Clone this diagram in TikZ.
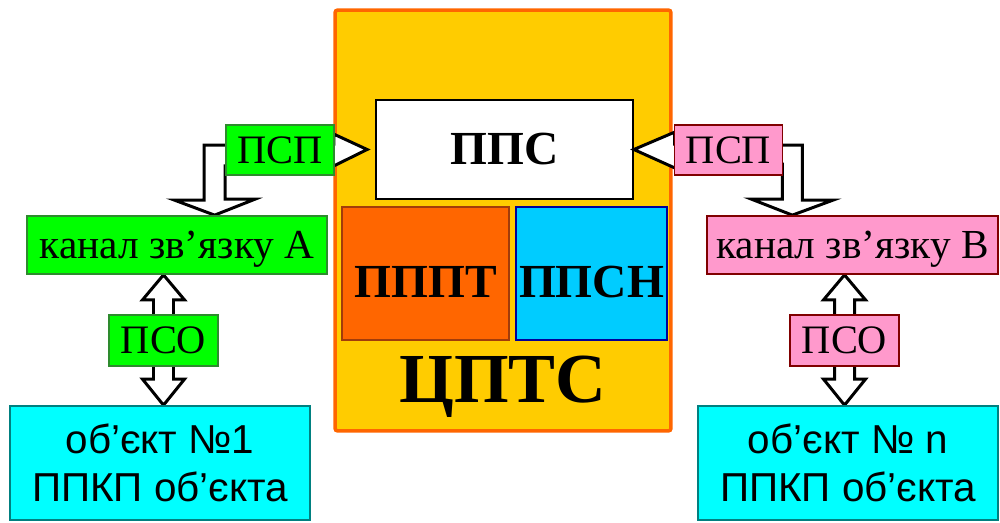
\documentclass[tikz,border=0pt]{standalone}
\usepackage{fontspec}
\setmainfont{Liberation Serif}
\newfontfamily\arialfont{Liberation Sans}
\usepackage{xcolor}
\usetikzlibrary{calc, backgrounds}

\definecolor{cptcfill}{HTML}{FFCC00}
\definecolor{cptcline}{HTML}{FF6600}
\definecolor{ppptfill}{HTML}{FF6600}
\definecolor{ppptline}{HTML}{A23C0A}
\definecolor{ppsnfill}{HTML}{00CCFF}
\definecolor{ppsnline}{HTML}{000099}
\definecolor{grfill}{HTML}{00FF00}
\definecolor{grline}{HTML}{2E8B2E}
\definecolor{pkfill}{HTML}{FF99CC}
\definecolor{pkline}{HTML}{800000}
\definecolor{cyfill}{HTML}{00FFFF}
\definecolor{cyline}{HTML}{008080}

\begin{document}
\begin{tikzpicture}[
  x=0.02cm, y=-0.02cm,
  box/.style      = {rectangle, draw=black, line width=1pt, inner sep=0pt, align=center},
  tag/.style      = {box, minimum width=2.16cm, minimum height=1cm,
                     font=\fontsize{23}{27}\selectfont},
  chan/.style     = {box, minimum height=1.16cm, text depth=0pt,
                     font=\fontsize{23.5}{27}\selectfont},
  obj/.style      = {box, fill=cyfill, draw=cyline, minimum width=6cm, minimum height=2.28cm,
                     font=\arialfont\fontsize{23}{27}\selectfont},
  unit/.style     = {box, minimum height=2.66cm, text height=27pt, text depth=0pt,
                     font=\bfseries\fontsize{27}{30}\selectfont},
  blockarr/.style = {draw=black, fill=white, line width=1.7pt, line join=miter},
]
\useasboundingbox (0,0) rectangle (1000,522);

%% ── Central station (ЦПТС) ──────────────────────────────────────────────
\begin{scope}[on background layer]
  \node[box, fill=cptcfill, draw=cptcline, line width=2pt, rounded corners=1.5pt,
        minimum width=6.72cm, minimum height=8.42cm]                  (cptc) at (503,220.5) {};
  \node[box, fill=white, minimum width=5.14cm, minimum height=1.98cm,
        font=\bfseries\fontsize{27}{30}\selectfont]                   (pps)  at (504.5,149.5) {ППС};
  \node[unit, fill=ppptfill, draw=ppptline, minimum width=3.34cm]     (pppt) at (425.5,273.5) {ПППТ};
  \node[unit, fill=ppsnfill, draw=ppsnline, minimum width=3.02cm]     (ppsn) at (591.5,273.5) {ППСН};
  \node[anchor=base, inner sep=0pt, font=\bfseries\fontsize{40}{44}\selectfont]
                                                                      (cptclbl) at (503,402) {ЦПТС};
\end{scope}

%% ── Side nodes ──────────────────────────────────────────────────────────
\node[tag, fill=grfill, draw=grline]                         (pspA) at (280,150)     {ПСП};
\node[tag, fill=pkfill, draw=pkline]                         (pspB) at (728.5,150)   {ПСП};
\node[chan, fill=grfill, draw=grline, minimum width=6cm]     (kanA) at (177,245)     {канал зв’язку А};
\node[chan, fill=pkfill, draw=pkline, minimum width=5.82cm]  (kanB) at (852.5,245)   {канал зв’язку В};
\node[tag, fill=grfill, draw=grline, minimum width=2.18cm, minimum height=1.02cm]
                                                             (psoA) at (163.5,340.5) {ПСО};
\node[tag, fill=pkfill, draw=pkline, minimum width=2.18cm, minimum height=1.02cm]
                                                             (psoB) at (844.5,340.5) {ПСО};
\node[obj]                                                   (objA) at (160,463)     {об’єкт №1\\ППКП об’єкта};
\node[obj]                                                   (objB) at (848,463)     {об’єкт № n\\ППКП об’єкта};

%% ── Block arrows (under the tags) ───────────────────────────────────────
\begin{scope}[on background layer]
  % left: ПСП -> ППС and down to channel A
  \draw[blockarr] ($(pspA.west)+(0,-5)$) -- ++(-21,0) -- ++(0,55) -- ++(-30,0)
      -- ($(kanA.north -| pspA.west)+(-10.5,0)$) -- ++(40.5,-16) -- ++(-30,0)
      -- ($(pspA.south west)+(0,-10)$) -- ($(pspA.south east)+(-1,-10)$)
      -- ($(pps.west)+(-8,0)$) -- ($(pspA.north east)+(-1,10)$)
      -- ($(pspA.north east)+(-1,20)$) -- cycle;
  % right: ПСП -> ППС and down to channel B
  \draw[blockarr] ($(pspB.east)+(0,-5)$) -- ++(19,0) -- ++(0,55) -- ++(31,0)
      -- ($(kanB.north -| pspB.east)+(9,0)$) -- ++(-41,-16) -- ++(31,0)
      -- ++(0,-35) -- ($(pspB.south west)+(1,-8)$)
      -- (pps.east) -- ($(pspB.north west)+(1,8)$)
      -- ($(pspB.north west)+(1,20)$) -- cycle;
  % channel <-> object
  \foreach \k/\p/\o in {kanA/psoA/objA, kanB/psoB/objB}{
    \draw[blockarr] (\k.south -| \p) -- ++(21,25) -- ++(-11,0)
        -- ($(\o.north -| \p)+(10,-26)$) -- ++(11,0) -- (\o.north -| \p)
        -- ++(-21,-26) -- ++(11,0)
        -- ($(\k.south -| \p)+(-10,25)$) -- ++(-11,0) -- cycle;
  }
\end{scope}

\end{tikzpicture}
\end{document}
